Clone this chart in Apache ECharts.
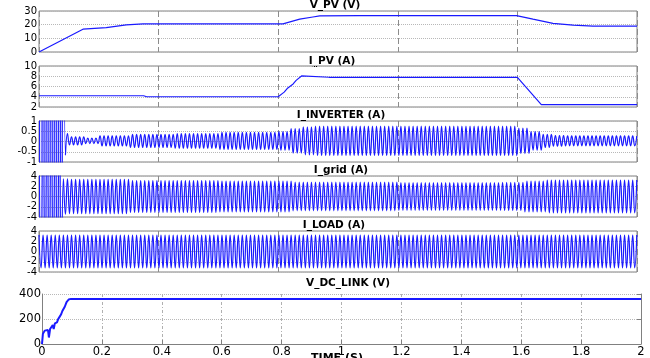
<!DOCTYPE html>
<html>
<head>
<meta charset="utf-8">
<script src="https://cdn.jsdelivr.net/npm/echarts@6/dist/echarts.min.js"></script>
<style>
  html, body { margin: 0; padding: 0; background: #fff; }
  #chart { width: 650px; height: 358px; }
</style>
</head>
<body>
<div id="chart"></div>
<script>
// V_PV (V)
var vpvT = [0, 0.147, 0.225, 0.292, 0.348, 0.816, 0.872, 0.916, 0.939, 1.072, 1.597, 1.652, 1.719, 1.786, 1.853, 2.0];
var vpvV = [0, 16.7, 17.9, 19.8, 20.6, 20.6, 24, 25.6, 26.4, 26.6, 26.6, 24, 21, 19.6, 18.9, 18.9];

// I_PV (A)
var ipvT = [0, 0.35, 0.36, 0.80, 0.82, 0.83, 0.85, 0.86, 0.878, 0.97, 1.60, 1.68, 2.0];
var ipvV = [4.2, 4.2, 4.0, 4.0, 4.9, 5.6, 6.5, 7.2, 8.06, 7.8, 7.8, 2.45, 2.45];

// V_DC_LINK (V)
var vdcT = [0, 0.003, 0.009, 0.020, 0.023, 0.027, 0.036, 0.039, 0.043, 0.050, 0.054, 0.058, 0.064, 0.068, 0.071, 0.076, 0.082, 0.089, 0.097, 2.0];
var vdcV = [0, 81, 107, 112, 52, 120, 152, 120, 165, 173, 199, 186, 238, 264, 256, 298, 335, 356, 361, 361];

// ac signals: half period (~29 cycles per 0.4 s cell)
// and the peak amplitude from each time on
var HALF = 0.0068;
var invT = [0, 0.082, 0.09, 0.1, 0.15, 0.2, 0.3, 0.45, 0.6, 0.8, 0.84, 0.88, 0.92, 1.6, 1.64, 1.68, 1.72, 1.76];
var invA = [20, 0.7, 0.35, 0.2, 0.13, 0.25, 0.32, 0.36, 0.42, 0.45, 0.6, 0.68, 0.72, 0.62, 0.45, 0.32, 0.26, 0.24];
var gridT = [0, 0.078, 0.1, 0.3, 0.6, 0.85, 1.2, 1.55, 1.62, 1.7];
var gridA = [20, 3.45, 3.35, 3.1, 3.0, 2.8, 2.7, 2.75, 3.0, 3.2];
var loadT = [0];
var loadA = [3.2];

var titles = ['V_PV (V)', 'I_PV (A)', 'I_INVERTER (A)', 'I_grid (A)', 'I_LOAD (A)', 'V_DC_LINK (V)'];

function pairs(t, v) {
  return t.map(function (x, i) { return [x, v[i]]; });
}

// alternating peaks, each taking the amplitude of its time segment
function peaks(times, amps, offset) {
  var pts = [];
  for (var k = 0; k * HALF <= 2; k++) {
    var t = k * HALF, j = 0;
    while (j + 1 < times.length && times[j + 1] <= t) j++;
    pts.push([t, offset + (k % 2 ? -1 : 1) * amps[j]]);
  }
  return pts;
}

var font = 'DejaVu Sans';
var blue = '#1a1aff';
var tops = [11, 66, 121, 176, 231];
var yRange = [[0, 30, 10], [2, 10, 2], [-1, 1, 0.5], [-4, 4, 2], [-4, 4, 2]];

var grids = [], xAxes = [], yAxes = [];
tops.forEach(function (top, i) {
  grids.push({ left: 39, top: top, width: 598, height: 41, show: true, borderColor: '#808080', borderWidth: 1 });
  xAxes.push({
    type: 'value', gridIndex: i, min: 0, max: 2, interval: 0.4,
    axisLabel: { show: false }, axisTick: { show: false }, axisLine: { show: false },
    splitLine: { show: true, lineStyle: { color: '#8c8c8c', type: [6, 3] } }
  });
  yAxes.push({
    type: 'value', gridIndex: i, min: yRange[i][0], max: yRange[i][1], interval: yRange[i][2],
    axisLine: { show: false }, axisTick: { show: false },
    axisLabel: { color: '#000', fontSize: 10, fontFamily: font, margin: 2, showMinLabel: true, showMaxLabel: true, hideOverlap: false },
    splitLine: { show: true, lineStyle: { color: '#b8b8b8', type: 'dotted' } }
  });
});

// bottom panel
grids.push({ left: 42, top: 294, width: 599, height: 51, show: false });
xAxes.push({
  type: 'value', gridIndex: 5, min: 0, max: 2, interval: 0.2,
  axisLine: { show: true, lineStyle: { color: '#808080' } },
  axisTick: { show: true, inside: true, length: 4, lineStyle: { color: '#808080' } },
  axisLabel: { color: '#000', fontSize: 11.5, fontFamily: font, margin: 2 },
  splitLine: { show: true, lineStyle: { color: '#b0b0b0', type: [3, 2, 1, 2] } }
});
yAxes.push({
  type: 'value', gridIndex: 5, min: 0, max: 400, interval: 200,
  axisLine: { show: true, lineStyle: { color: '#808080' } },
  axisTick: { show: false },
  axisLabel: { color: '#000', fontSize: 11.5, fontFamily: font, margin: 1 },
  splitLine: { show: true, lineStyle: { color: '#b8b8b8', type: 'dotted' } }
});
yAxes.push({
  type: 'value', gridIndex: 5, position: 'right', min: 0, max: 400, interval: 200,
  axisLine: { show: true, lineStyle: { color: '#808080' } },
  axisTick: { show: true, inside: true, length: 4, lineStyle: { color: '#808080' } },
  axisLabel: { show: false }, splitLine: { show: false }
});

function line(i, data, width, smooth) {
  return {
    type: 'line', xAxisIndex: i, yAxisIndex: i, data: data, showSymbol: false,
    smooth: smooth || false, clip: true,
    lineStyle: { color: blue, width: width }
  };
}

var titleCx = [335, 332, 341, 341, 334, 348];
var titleCy = [5, 61, 115, 170, 225, 283];
var graphics = titles.map(function (s, i) {
  return {
    type: 'text', x: titleCx[i], y: titleCy[i],
    style: { text: s, font: 'bold 10.5px "DejaVu Sans"', fill: '#000', textAlign: 'center', textVerticalAlign: 'middle' }
  };
});
graphics.push({
  type: 'text', x: 337, y: 353,
  style: { text: 'TIME (S)', font: 'bold 11px "DejaVu Sans"', fill: '#000', textAlign: 'center', textVerticalAlign: 'top' }
});

var option = {
  animation: false,
  backgroundColor: '#fff',
  grid: grids,
  xAxis: xAxes,
  yAxis: yAxes,
  graphic: graphics,
  series: [
    line(0, pairs(vpvT, vpvV), 1.2),
    line(1, pairs(ipvT, ipvV), 1.2),
    line(2, peaks(invT, invA, 0.03), 1.2, true),
    line(3, peaks(gridT, gridA, 0), 1.2, true),
    line(4, peaks(loadT, loadA, 0), 1.2, true),
    line(5, pairs(vdcT, vdcV), 2)
  ]
};

var chart = echarts.init(document.getElementById('chart'));
chart.setOption(option);
</script>
</body>
</html>
